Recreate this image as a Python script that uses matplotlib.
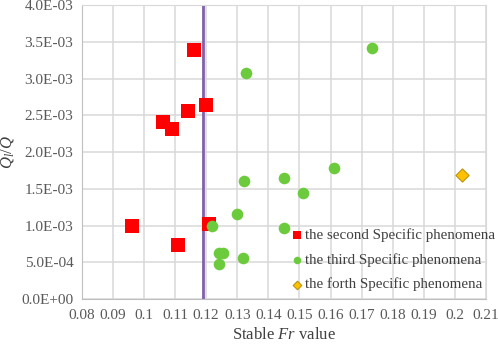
import math
import matplotlib
matplotlib.use("Agg")
import matplotlib.pyplot as plt
from matplotlib.ticker import FuncFormatter, MultipleLocator

plt.rcParams['font.family'] = ['Liberation Serif', 'DejaVu Serif']
plt.rcParams['mathtext.fontset'] = 'custom'
plt.rcParams['mathtext.it'] = 'Liberation Serif:italic'
plt.rcParams['mathtext.rm'] = 'Liberation Serif'

second_fr = [0.1161, 0.1201, 0.1141, 0.106, 0.109, 0.0961, 0.111, 0.121]
second_q = [3.39e-3, 2.64e-3, 2.556e-3, 2.41e-3, 2.31e-3, 0.99e-3, 0.73e-3, 1.02e-3]

third_fr = [0.1328, 0.1322, 0.1732, 0.1611, 0.145, 0.1511, 0.145, 0.132, 0.130, 0.122,
            0.1243, 0.1254, 0.1241]
third_q = [3.07e-3, 1.60e-3, 3.41e-3, 1.785e-3, 1.643e-3, 1.448e-3, 0.967e-3, 0.56e-3,
           1.16e-3, 1.0e-3, 0.62e-3, 0.62e-3, 0.48e-3]

forth_fr = [0.2022]
forth_q = [1.69e-3]

critical_fr = 0.1191

fig = plt.figure(figsize=(4.98, 3.45), dpi=100)
ax = fig.add_axes([0.164, 0.1333, 0.812, 0.852])

ax.axvline(critical_fr, color='#8060A8', lw=2, zorder=2)
ax.scatter(second_fr, second_q, marker='s', s=90, color='#FF0000', zorder=3,
           label='the second Specific phenomena', linewidths=0)
ax.scatter(third_fr, third_q, marker='o', s=70, color='#6CCB3C', zorder=4,
           label='the third Specific phenomena', linewidths=0)
ax.scatter(forth_fr, forth_q, marker='D', s=45, color='#FFC000', edgecolor='#B8960C',
           linewidths=0.8, zorder=4, label='the forth Specific phenomena')

ax.set_xlim(0.08, 0.21)
ax.set_ylim(0, 4.0e-3)
ax.xaxis.set_major_locator(MultipleLocator(0.01))
ax.yaxis.set_major_locator(MultipleLocator(0.5e-3))

def xfmt(v, pos):
    return f"{v:.2f}".rstrip('0').rstrip('.')

def yfmt(v, pos):
    if abs(v) < 1e-12:
        return "0.0E+00"
    e = int(math.floor(math.log10(abs(v)) + 1e-9))
    m = v / 10 ** e
    sign = '+' if e >= 0 else '-'
    return f"{m:.1f}E{sign}{abs(e):02d}"

ax.xaxis.set_major_formatter(FuncFormatter(xfmt))
ax.yaxis.set_major_formatter(FuncFormatter(yfmt))

ax.grid(True, color='#D9D9D9', lw=1.1, zorder=0)
ax.set_axisbelow(True)
for side in ['top', 'right']:
    ax.spines[side].set_color('#D9D9D9')
for side in ['left', 'bottom']:
    ax.spines[side].set_color('#BFBFBF')
ax.tick_params(length=0, labelsize=11, colors='#595959')
ax.tick_params(axis='x', pad=7)
ax.tick_params(axis='y', pad=6)

ax.set_xlabel('Stable $\\mathit{Fr}$ value', fontsize=12, color='#404040', labelpad=4)
ax.set_ylabel('$\\mathit{Q_l/Q}$', fontsize=12, color='#404040', labelpad=4)

leg = ax.legend(loc='lower left', bbox_to_anchor=(0.49, -0.005), frameon=False, fontsize=10.8,
                markerscale=0.65, handletextpad=0.0, labelspacing=0.74, borderaxespad=0.2,
                handlelength=1.1, labelcolor='#404040')

fig.savefig('out.png', dpi=100)
